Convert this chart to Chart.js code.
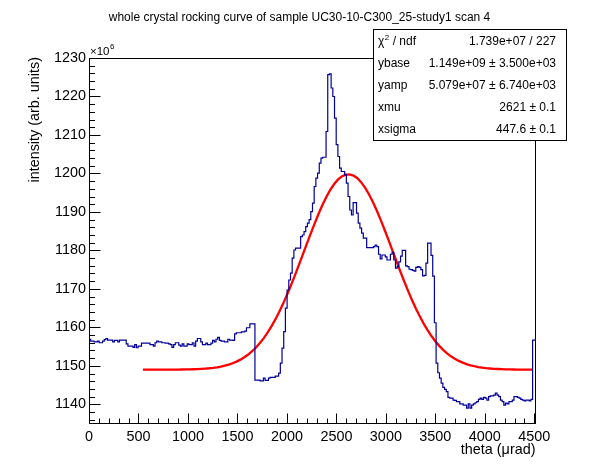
<!DOCTYPE html>
<html><head><meta charset="utf-8">
<script src="https://cdn.jsdelivr.net/npm/chart.js@4.4.1/dist/chart.umd.min.js"></script>
<style>html,body{margin:0;padding:0;background:#fff;}canvas{display:block;}</style>
</head><body>
<canvas id="c" width="596" height="472"></canvas>
<script>
const FONT = "'Liberation Sans', Arial, Helvetica, sans-serif";

// ---- data (intensity in units of 10^6) ----
const binWidth = 17.11;           // theta bin width (µrad)
const plateauLeft = [
 1157.4,1156.9,1156.4,1156.4,1156.2,1156.2,1156.4,1156.0,1156.0,1156.4,
 1156.8,1157.1,1156.7,1156.7,1156.7,1156.2,1156.6,1156.6,1156.2,1156.7,
 1156.7,1156.7,1156.7,1155.7,1155.1,1155.1,1155.1,1154.8,1155.5,1154.7,
 1155.1,1155.1,1155.9,1155.9,1155.9,1155.9,1155.9,1155.5,1155.5,1155.1,
 1156.0,1156.4,1156.2,1156.2,1156.0,1156.0,1155.9,1155.9,1155.7,1155.5,
 1154.8,1155.5,1156.0,1156.0,1155.4,1155.1,1155.7,1155.1,1155.1,1155.7,
 1155.5,1155.5,1156.0,1155.1,1156.4,1157.1,1157.1,1156.2,1155.5,1155.5,
 1155.9,1155.5,1155.5,1155.9,1156.6,1156.2,1156.9,1157.4,1156.6,1156.4,
 1156.4,1156.2,1156.2,1156.9,1156.7,1156.7,1156.6,1158.3,1158.6,1158.6,
 1158.6,1158.8,1158.8,1159.0,1159.9,1159.9,1160.9,1160.9,1160.9
];
const dipRegion = [
 1146.3,1146.3,1146.3,1146.1,1146.1,1146.8,1146.2,1146.2,1146.8,1147.0,
 1147.0,1147.0,1147.3,1147.3
];
const peakRegion = [
 1148.1,1150.7,1154.6,1158.9,1165.0,1169.7,1172.3,1174.1,1178.0,1180.1,
 1180.6,1180.6,1180.6,1183.6,1184.0,1184.9,1186.2,1187.1,1188.0,1190.1,
 1192.3,1196.6,1198.8,1200.1,1202.7,1204.0,1204.2,1204.2,1210.9,1225.7,
 1225.9,1222.2,1220.0,1214.4,1207.5,1204.4,1201.4,1200.5,1200.5,1199.6,
 1197.5,1194.0,1190.5,1189.2,1192.4,1192.4,1189.7,1187.1,1185.8,1184.5,
 1183.2,1183.2,1180.7,1180.7,1180.7,1180.7,1181.0,1181.4,1181.0
];
const shoulderRegion = [
 1179.0,1177.8,1178.8,1178.8,1178.3,1177.5,1177.5,1179.0,1179.5,1177.5,
 1175.4,1175.8,1177.0,1178.5,1180.0,1180.0,1176.0,1175.8,1175.1,1175.0,
 1174.8,1174.6,1175.6,1175.8,1175.6,1175.0,1173.4,1173.5,1176.7,1181.9,
 1181.9,1178.7,1173.3,1161.2
];
const tailRegion = [
 1150.7,1148.2,1146.8,1145.5,1144.4,1143.9,1143.3,1141.8,1141.6,1141.6,
 1141.1,1141.0,1140.7,1140.7,1140.1,1140.1,1139.8,1139.8,1139.0,1140.1,
 1139.0,1139.8,1140.1,1140.4,1140.7,1141.3,1141.6,1141.3,1141.8,1141.6,
 1141.1,1142.0,1142.2,1142.2,1142.4,1142.9,1142.4,1142.0,1141.1,1140.7,
 1139.8,1140.3,1140.1,1140.7,1140.7,1141.1,1142.0,1142.0,1141.8,1141.6,
 1141.3,1141.1,1140.9,1141.1,1141.1,1140.9,1141.3,1156.7
];
const intensity = [].concat(plateauLeft, dipRegion, peakRegion, shoulderRegion, tailRegion);
const xMax = intensity.length * binWidth;

// fit parameters (from stats box), intensity ×10^6
const ybase = 1149.0, yamp = 50.79, xmu = 2621, xsigma = 447.6;
const fitMin = 545, fitMax = 4485, fitNpx = 100;

const xTicks = [0,500,1000,1500,2000,2500,3000,3500,4000,4500];
const yTicks = [1140,1150,1160,1170,1180,1190,1200,1210,1220,1230];
const yMin = 1134.88, yMax = 1230;

const titleText = "whole crystal rocking curve of sample UC30-10-C300_25-study1 scan 4";
const xTitle = "theta (\u03bcrad)";
const yTitle = "intensity (arb. units)";
const statNames = ["ybase","yamp","xmu","xsigma"];
const statValues = ["1.739e+07 / 227","1.149e+09 \u00b1 3.500e+03","5.079e+07 \u00b1 6.740e+03","2621 \u00b1 0.1","447.6 \u00b1 0.1"];

// ---- build datasets ----
const histPoints = intensity.map((v,i)=>({x:i*binWidth, y:v}));
histPoints.push({x:xMax, y:intensity[intensity.length-1]});
const fitPoints = [];
for (let i=0;i<=fitNpx;i++){
  const xv = fitMin + (fitMax-fitMin)*i/fitNpx;
  fitPoints.push({x:xv, y: ybase + yamp*Math.exp(-0.5*Math.pow((xv-xmu)/xsigma,2))});
}

const decor = {
  id:'rootDecor',
  afterDraw(chart){
    const {ctx, chartArea:a, scales:{x,y}} = chart;
    ctx.save();
    ctx.strokeStyle='#000'; ctx.lineWidth=1; ctx.fillStyle='#000';
    const L=Math.round(a.left)+0.5, R=Math.round(a.right)-0.5, T=Math.round(a.top)+0.5, B=Math.round(a.bottom)-0.5;
    ctx.strokeRect(L,T,R-L,B-T);
    ctx.beginPath();
    for (let v=0; v<=x.max; v+=100){
      const px=Math.round(x.getPixelForValue(v))+0.5;
      const len=(v%500===0)?10:5;
      ctx.moveTo(px,B); ctx.lineTo(px,B-len);
    }
    for (let v=1136; v<=1230; v+=2){
      const py=Math.round(y.getPixelForValue(v))+0.5;
      const len=(v%10===0)?11:5.5;
      ctx.moveTo(L,py); ctx.lineTo(L+len,py);
    }
    ctx.stroke();
    // x10^6
    ctx.textBaseline='alphabetic'; ctx.textAlign='left';
    ctx.font="11.5px "+FONT;
    ctx.fillText("\u00d710",90,55);
    const w10=ctx.measureText("\u00d710").width;
    ctx.font="8px "+FONT;
    ctx.fillText("6",90+w10+0.5,49);
    // titles
    ctx.font="12px "+FONT; ctx.textAlign='center';
    ctx.fillText(titleText,299.5,21);
    ctx.font="14.4px "+FONT; ctx.textAlign='right';
    ctx.fillText(xTitle,535.5,454);
    ctx.save(); ctx.translate(39,57); ctx.rotate(-Math.PI/2);
    ctx.fillText(yTitle,0,0); ctx.restore();
    // stats box
    const bx=373.5, by=29.5, bw=193, bh=111;
    ctx.fillStyle='#fff'; ctx.fillRect(bx,by,bw,bh);
    ctx.strokeRect(bx,by,bw,bh);
    ctx.fillStyle='#000';
    ctx.font="12px "+FONT; ctx.textBaseline='middle';
    const rows=[42,64,86,108,130];
    ctx.textAlign='left';
    ctx.fillText("\u03c7",378,rows[0]);
    const wc=ctx.measureText("\u03c7").width;
    ctx.font="8px "+FONT; ctx.fillText("2",378+wc+0.5,rows[0]-4);
    ctx.font="12px "+FONT; ctx.fillText(" / ndf",378+wc+5,rows[0]);
    statNames.forEach((n,i)=>ctx.fillText(n,378,rows[i+1]));
    ctx.textAlign='right';
    statValues.forEach((s,i)=>ctx.fillText(s,556,rows[i]));
    ctx.restore();
  }
};

new Chart(document.getElementById('c'), {
  type:'line',
  data:{datasets:[
    {label:'histogram', data:histPoints, stepped:'after', borderColor:'#000099', borderWidth:1.2, pointRadius:0, fill:false, tension:0},
    {label:'fit', data:fitPoints, borderColor:'#ff0000', borderWidth:2.3, pointRadius:0, fill:false, tension:0}
  ]},
  options:{
    responsive:false, animation:false, devicePixelRatio:1,
    layout:{padding:{left:0,right:60,top:58,bottom:0}},
    plugins:{legend:{display:false}, tooltip:{enabled:false}, title:{display:false}},
    scales:{
      x:{type:'linear', min:0, max:xMax,
        afterBuildTicks:s=>{s.ticks=xTicks.map(v=>({value:v}));},
        afterFit:s=>{s.height=48;},
        grid:{display:false, drawTicks:false}, border:{display:false},
        ticks:{padding:4, color:'#000', font:{family:FONT,size:14.4}, maxRotation:0, autoSkip:false, callback:v=>String(v)}},
      y:{type:'linear', min:yMin, max:yMax,
        afterBuildTicks:s=>{s.ticks=yTicks.map(v=>({value:v}));},
        afterFit:s=>{s.width=89;},
        grid:{display:false, drawTicks:false}, border:{display:false},
        ticks:{padding:3, color:'#000', font:{family:FONT,size:14.4}, autoSkip:false, callback:v=>String(v)}}
    }
  },
  plugins:[decor]
});
</script>
</body></html>
